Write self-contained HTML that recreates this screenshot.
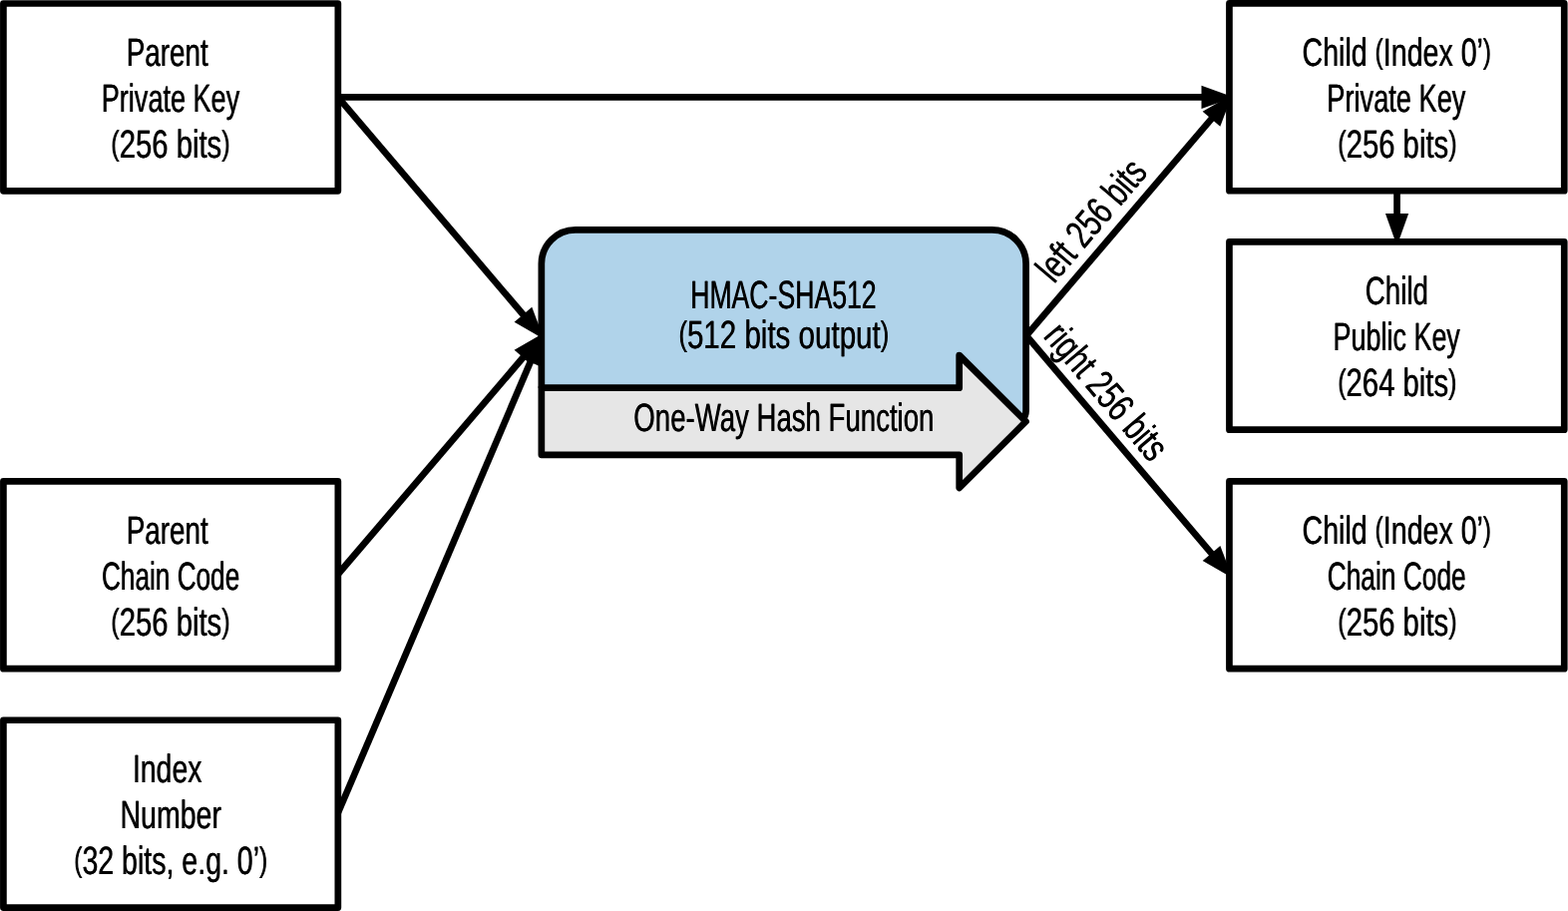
<!DOCTYPE html>
<html lang="en">
<head>
<meta charset="utf-8">
<title>Hardened child key derivation</title>
<style>
html,body{margin:0;padding:0;background:#fff;}
body{width:1572px;height:913px;overflow:hidden;}
svg{display:block;will-change:transform;}
.t{font-family:"Liberation Sans",sans-serif;font-size:39.6px;fill:#000;text-rendering:geometricPrecision;}
.ln{stroke:#000;stroke-width:6.7;fill:none;stroke-linecap:butt;}
.hd{fill:#000;stroke:none;}
.bx{fill:#fff;stroke:#000;stroke-width:6.7;stroke-linejoin:round;}
</style>
</head>
<body>
<svg width="1572" height="913" viewBox="0 0 1572 913">
<rect x="0" y="0" width="1572" height="913" fill="#fff"/>
<g class="ln">
<line x1="338.85" y1="97.40" x2="1206.50" y2="97.40"/>
<line x1="338.85" y1="97.40" x2="525.72" y2="316.78"/>
<line x1="338.85" y1="575.55" x2="525.69" y2="356.79"/>
<line x1="338.85" y1="814.70" x2="532.43" y2="361.15"/>
<line x1="1029.00" y1="336.40" x2="1215.79" y2="117.69"/>
<line x1="1029.00" y1="336.40" x2="1215.84" y2="556.07"/>
<line x1="1400.55" y1="191.00" x2="1400.55" y2="216.00"/>
</g>
<g class="hd">
<polygon points="545.50,340.00 515.59,322.78 533.26,307.74"/>
<polygon points="545.50,333.60 533.21,365.85 515.57,350.78"/>
<polygon points="544.40,333.10 542.31,367.54 520.97,358.44"/>
</g>
<path style="fill:#b0d3ea;stroke:none" d="M542.85,388.65 V264.3 A34,34 0 0 1 576.85,230.3 H994.60 A34,34 0 0 1 1028.6,264.3 V422.4 L961.7,422.4 V388.65 Z"/>
<path class="ln" d="M542.85,388.65 V264.3 A34,34 0 0 1 576.85,230.3 H994.60 A34,34 0 0 1 1028.6,264.3 V411.5 A14,14 0 0 1 1014.60,425.5"/>
<path class="bx" style="fill:#e6e6e6" d="M542.85,388.65 H961.7 V356.0 L1028.5,422.4 L961.7,489.0 V455.8 H542.85 Z"/>
<g class="hd">
<polygon points="1237.00,97.40 1204.50,109.00 1204.50,85.80"/>
<polygon points="1235.60,94.50 1223.31,126.75 1205.67,111.68"/>
<polygon points="1235.60,579.30 1205.71,562.06 1223.38,547.03"/>
<polygon points="1400.55,246.50 1388.95,214.00 1412.15,214.00"/>
</g>
<rect class="bx" x="3.4" y="3.5" width="335.45" height="187.8"/>
<rect class="bx" x="3.4" y="482.35" width="335.45" height="187.8"/>
<rect class="bx" x="3.4" y="721.75" width="335.45" height="187.8"/>
<rect class="bx" x="1232.45" y="3.45" width="335.8" height="187.8"/>
<rect class="bx" x="1232.45" y="242.45" width="335.8" height="188.2"/>
<rect class="bx" x="1232.45" y="482.35" width="335.8" height="187.8"/>
<text id="t0" class="t" transform="translate(126.52,66.00) scale(0.7036,1)">Parent</text><use href="#t0" transform="translate(0.50,0)"/>
<text id="t1" class="t" transform="translate(101.51,112.00) scale(0.6841,1)">Private Key</text><use href="#t1" transform="translate(0.50,0)"/>
<text id="t2" class="t" transform="translate(110.96,158.00) scale(0.7401,1)"><tspan font-size="34.2" dy="-3.00">(</tspan><tspan dy="3.00">256 bits</tspan><tspan font-size="34.2" dy="-3.00">)</tspan></text><use href="#t2" transform="translate(0.50,0)"/>
<text id="t3" class="t" transform="translate(126.52,545.00) scale(0.7036,1)">Parent</text><use href="#t3" transform="translate(0.50,0)"/>
<text id="t4" class="t" transform="translate(101.68,591.00) scale(0.6617,1)">Chain Code</text><use href="#t4" transform="translate(0.50,0)"/>
<text id="t5" class="t" transform="translate(110.96,637.00) scale(0.7401,1)"><tspan font-size="34.2" dy="-3.00">(</tspan><tspan dy="3.00">256 bits</tspan><tspan font-size="34.2" dy="-3.00">)</tspan></text><use href="#t5" transform="translate(0.50,0)"/>
<text id="t6" class="t" transform="translate(132.66,784.00) scale(0.7176,1)">Index</text><use href="#t6" transform="translate(0.50,0)"/>
<text id="t7" class="t" transform="translate(120.22,830.00) scale(0.7208,1)">Number</text><use href="#t7" transform="translate(0.50,0)"/>
<text id="t8" class="t" transform="translate(73.98,876.00) scale(0.7208,1)"><tspan font-size="34.2" dy="-3.00">(</tspan><tspan dy="3.00">32 bits, e.g. 0’</tspan><tspan font-size="34.2" dy="-3.00">)</tspan></text><use href="#t8" transform="translate(0.50,0)"/>
<text id="t9" class="t" transform="translate(1305.32,66.00) scale(0.7217,1)">Child <tspan font-size="34.2" dy="-3.00">(</tspan><tspan dy="3.00">Index 0’</tspan><tspan font-size="34.2" dy="-3.00">)</tspan></text><use href="#t9" transform="translate(0.50,0)"/>
<text id="t10" class="t" transform="translate(1330.10,112.00) scale(0.6868,1)">Private Key</text><use href="#t10" transform="translate(0.50,0)"/>
<text id="t11" class="t" transform="translate(1340.96,158.00) scale(0.7396,1)"><tspan font-size="34.2" dy="-3.00">(</tspan><tspan dy="3.00">256 bits</tspan><tspan font-size="34.2" dy="-3.00">)</tspan></text><use href="#t11" transform="translate(0.50,0)"/>
<text id="t12" class="t" transform="translate(1368.54,305.00) scale(0.7006,1)">Child</text><use href="#t12" transform="translate(0.50,0)"/>
<text id="t13" class="t" transform="translate(1336.34,351.00) scale(0.6805,1)">Public Key</text><use href="#t13" transform="translate(0.50,0)"/>
<text id="t14" class="t" transform="translate(1340.94,397.00) scale(0.7389,1)"><tspan font-size="34.2" dy="-3.00">(</tspan><tspan dy="3.00">264 bits</tspan><tspan font-size="34.2" dy="-3.00">)</tspan></text><use href="#t14" transform="translate(0.50,0)"/>
<text id="t15" class="t" transform="translate(1305.32,545.00) scale(0.7217,1)">Child <tspan font-size="34.2" dy="-3.00">(</tspan><tspan dy="3.00">Index 0’</tspan><tspan font-size="34.2" dy="-3.00">)</tspan></text><use href="#t15" transform="translate(0.50,0)"/>
<text id="t16" class="t" transform="translate(1330.46,591.00) scale(0.6648,1)">Chain Code</text><use href="#t16" transform="translate(0.50,0)"/>
<text id="t17" class="t" transform="translate(1340.96,637.00) scale(0.7396,1)"><tspan font-size="34.2" dy="-3.00">(</tspan><tspan dy="3.00">256 bits</tspan><tspan font-size="34.2" dy="-3.00">)</tspan></text><use href="#t17" transform="translate(0.50,0)"/>
<text id="t18" class="t" transform="translate(691.95,309.00) scale(0.6727,1)">HMAC-SHA512</text><use href="#t18" transform="translate(0.50,0)"/>
<text id="t19" class="t" transform="translate(680.14,349.00) scale(0.7466,1)"><tspan font-size="34.2" dy="-3.00">(</tspan><tspan dy="3.00">512 bits output</tspan><tspan font-size="34.2" dy="-3.00">)</tspan></text><use href="#t19" transform="translate(0.50,0)"/>
<text id="t20" class="t" transform="translate(635.06,432.00) scale(0.6973,1)">One-Way Hash Function</text><use href="#t20" transform="translate(0.50,0)"/>
<g transform="translate(1058.00,283.70) rotate(-49.6)"><text id="r0" class="t" transform="translate(-2.11,0) scale(0.7231,1)">left 256 bits</text><use href="#r0" transform="translate(0.50,0)"/></g>
<g transform="translate(1046.30,338.90) rotate(49.6)"><text id="r1" class="t" transform="translate(-2.15,0) scale(0.7363,1)">right 256 bits</text><use href="#r1" transform="translate(0.50,0)"/></g>
</svg>
</body>
</html>
